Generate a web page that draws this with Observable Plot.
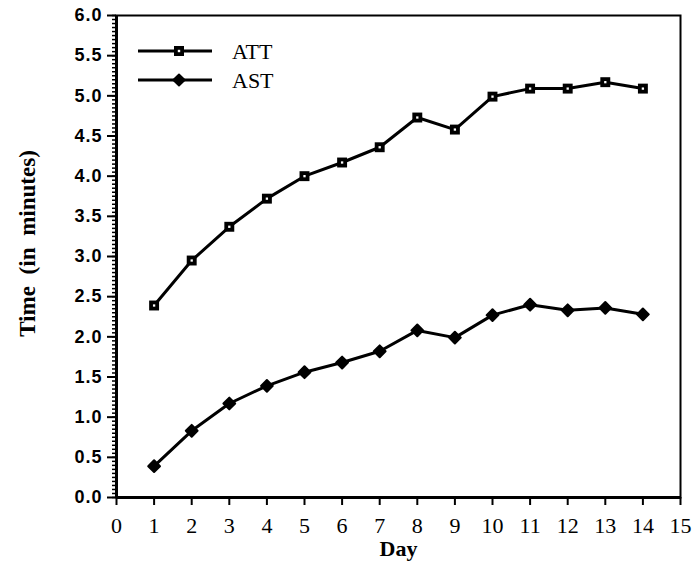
<!DOCTYPE html>
<html><head><meta charset="utf-8">
<script src="https://cdn.jsdelivr.net/npm/d3@7"></script>
<script src="https://cdn.jsdelivr.net/npm/@observablehq/plot@0.6"></script>
<style>
body{margin:0;background:#fff;}
#wrap{position:relative;width:693px;height:570px;}
#legend{position:absolute;left:0;top:0;}
</style></head><body><div id="wrap"></div>
<script>
const days = [1,2,3,4,5,6,7,8,9,10,11,12,13,14];
const attValues = [2.39,2.95,3.37,3.72,4.00,4.17,4.36,4.73,4.58,4.99,5.09,5.09,5.17,5.09];
const astValues = [0.39,0.83,1.17,1.39,1.56,1.68,1.82,2.08,1.99,2.27,2.40,2.33,2.36,2.28];
const seriesNames = ["ATT","AST"];
const xTicks = [0,1,2,3,4,5,6,7,8,9,10,11,12,13,14,15];
const yTicks = [0,0.5,1,1.5,2,2.5,3,3.5,4,4.5,5,5.5,6];
const yMinorTicks = d3.range(0,121).map(i => i/20);

const att = days.map((d,i)=>({day:d, time:attValues[i], series:seriesNames[0]}));
const ast = days.map((d,i)=>({day:d, time:astValues[i], series:seriesNames[1]}));
const data = att.concat(ast);

const serif = "'Liberation Serif', 'Times New Roman', serif";
const sans = "'Liberation Sans', Arial, sans-serif";

const chart = Plot.plot({
  width:693, height:570,
  marginLeft:116, marginRight:13, marginTop:15, marginBottom:73,
  x:{domain:[0,15]}, y:{domain:[0,6]},
  style:{background:"white", color:"black", overflow:"visible"},
  marks:[
    Plot.axisY(yMinorTicks, {tickSize:4, tickFormat:()=>"", strokeWidth:1.5, label:null}),
    Plot.axisY(yTicks, {tickSize:9, tickPadding:5, strokeWidth:2, tickFormat:d3.format(".1f"), fontSize:18, fontWeight:"bold", fontFamily:sans, label:null}),
    Plot.axisX(xTicks, {tickSize:8, tickPadding:12, strokeWidth:2, fontSize:22, fontFamily:serif, label:null}),
    Plot.frame({stroke:"black", strokeWidth:2}),
    Plot.ruleX([0], {stroke:"black", strokeWidth:3}),
    Plot.ruleY([0], {stroke:"black", strokeWidth:3}),
    Plot.line(data, {x:"day", y:"time", z:"series", stroke:"black", strokeWidth:3}),
    Plot.dot(att, {x:"day", y:"time", symbol:"square", r:5.6, fill:"black"}),
    Plot.dot(att, {x:"day", y:"time", symbol:"square", r:1.3, fill:"white"}),
    Plot.dot(ast, {x:"day", y:"time", symbol:"square", r:4.7, rotate:45, fill:"black", stroke:"black", strokeWidth:2, strokeLinejoin:"round"}),
    Plot.text(["Time (in minutes)"], {text:d=>d, frameAnchor:"left", textAnchor:"middle", rotate:-90, dx:-89, dy:-13, fontSize:23, fontWeight:"bold", fontFamily:serif, fill:"black"}),
    Plot.text(["Day"], {text:d=>d, frameAnchor:"bottom", dy:58, fontSize:22, fontWeight:"bold", fontFamily:serif, fill:"black"})
  ]
});
const wrap = document.getElementById("wrap");
wrap.appendChild(chart);
// widen the word spacing of the y title as in the original
d3.select(chart).selectAll("text").filter(function(){return this.textContent==="Time (in minutes)";}).style("word-spacing","6px");
d3.select(chart).selectAll("g[aria-label='y-axis tick label'] text").style("letter-spacing","1px");

// legend overlay
const lg = d3.select(wrap).append("svg").attr("id","legend").attr("width",693).attr("height",120);
const legendY = [51, 80];
seriesNames.forEach((name,i)=>{
  const g = lg.append("g").attr("transform",`translate(0,${legendY[i]})`);
  g.append("line").attr("x1",138).attr("x2",212).attr("y1",0).attr("y2",0).attr("stroke","black").attr("stroke-width",2.8);
  if (i===0) {
    g.append("rect").attr("x",174).attr("y",-5).attr("width",10).attr("height",10).attr("fill","black");
    g.append("rect").attr("x",177.8).attr("y",-1.2).attr("width",2.4).attr("height",2.4).attr("fill","white");
  } else {
    g.append("rect").attr("x",-4).attr("y",-4).attr("width",8).attr("height",8).attr("fill","black")
      .attr("stroke","black").attr("stroke-width",1.8).attr("stroke-linejoin","round")
      .attr("transform","translate(179,0) rotate(45)");
  }
  g.append("text").attr("x",232).attr("y",0).attr("dy","0.35em").attr("font-family",serif).attr("font-size",22).text(name);
});
</script></body></html>
